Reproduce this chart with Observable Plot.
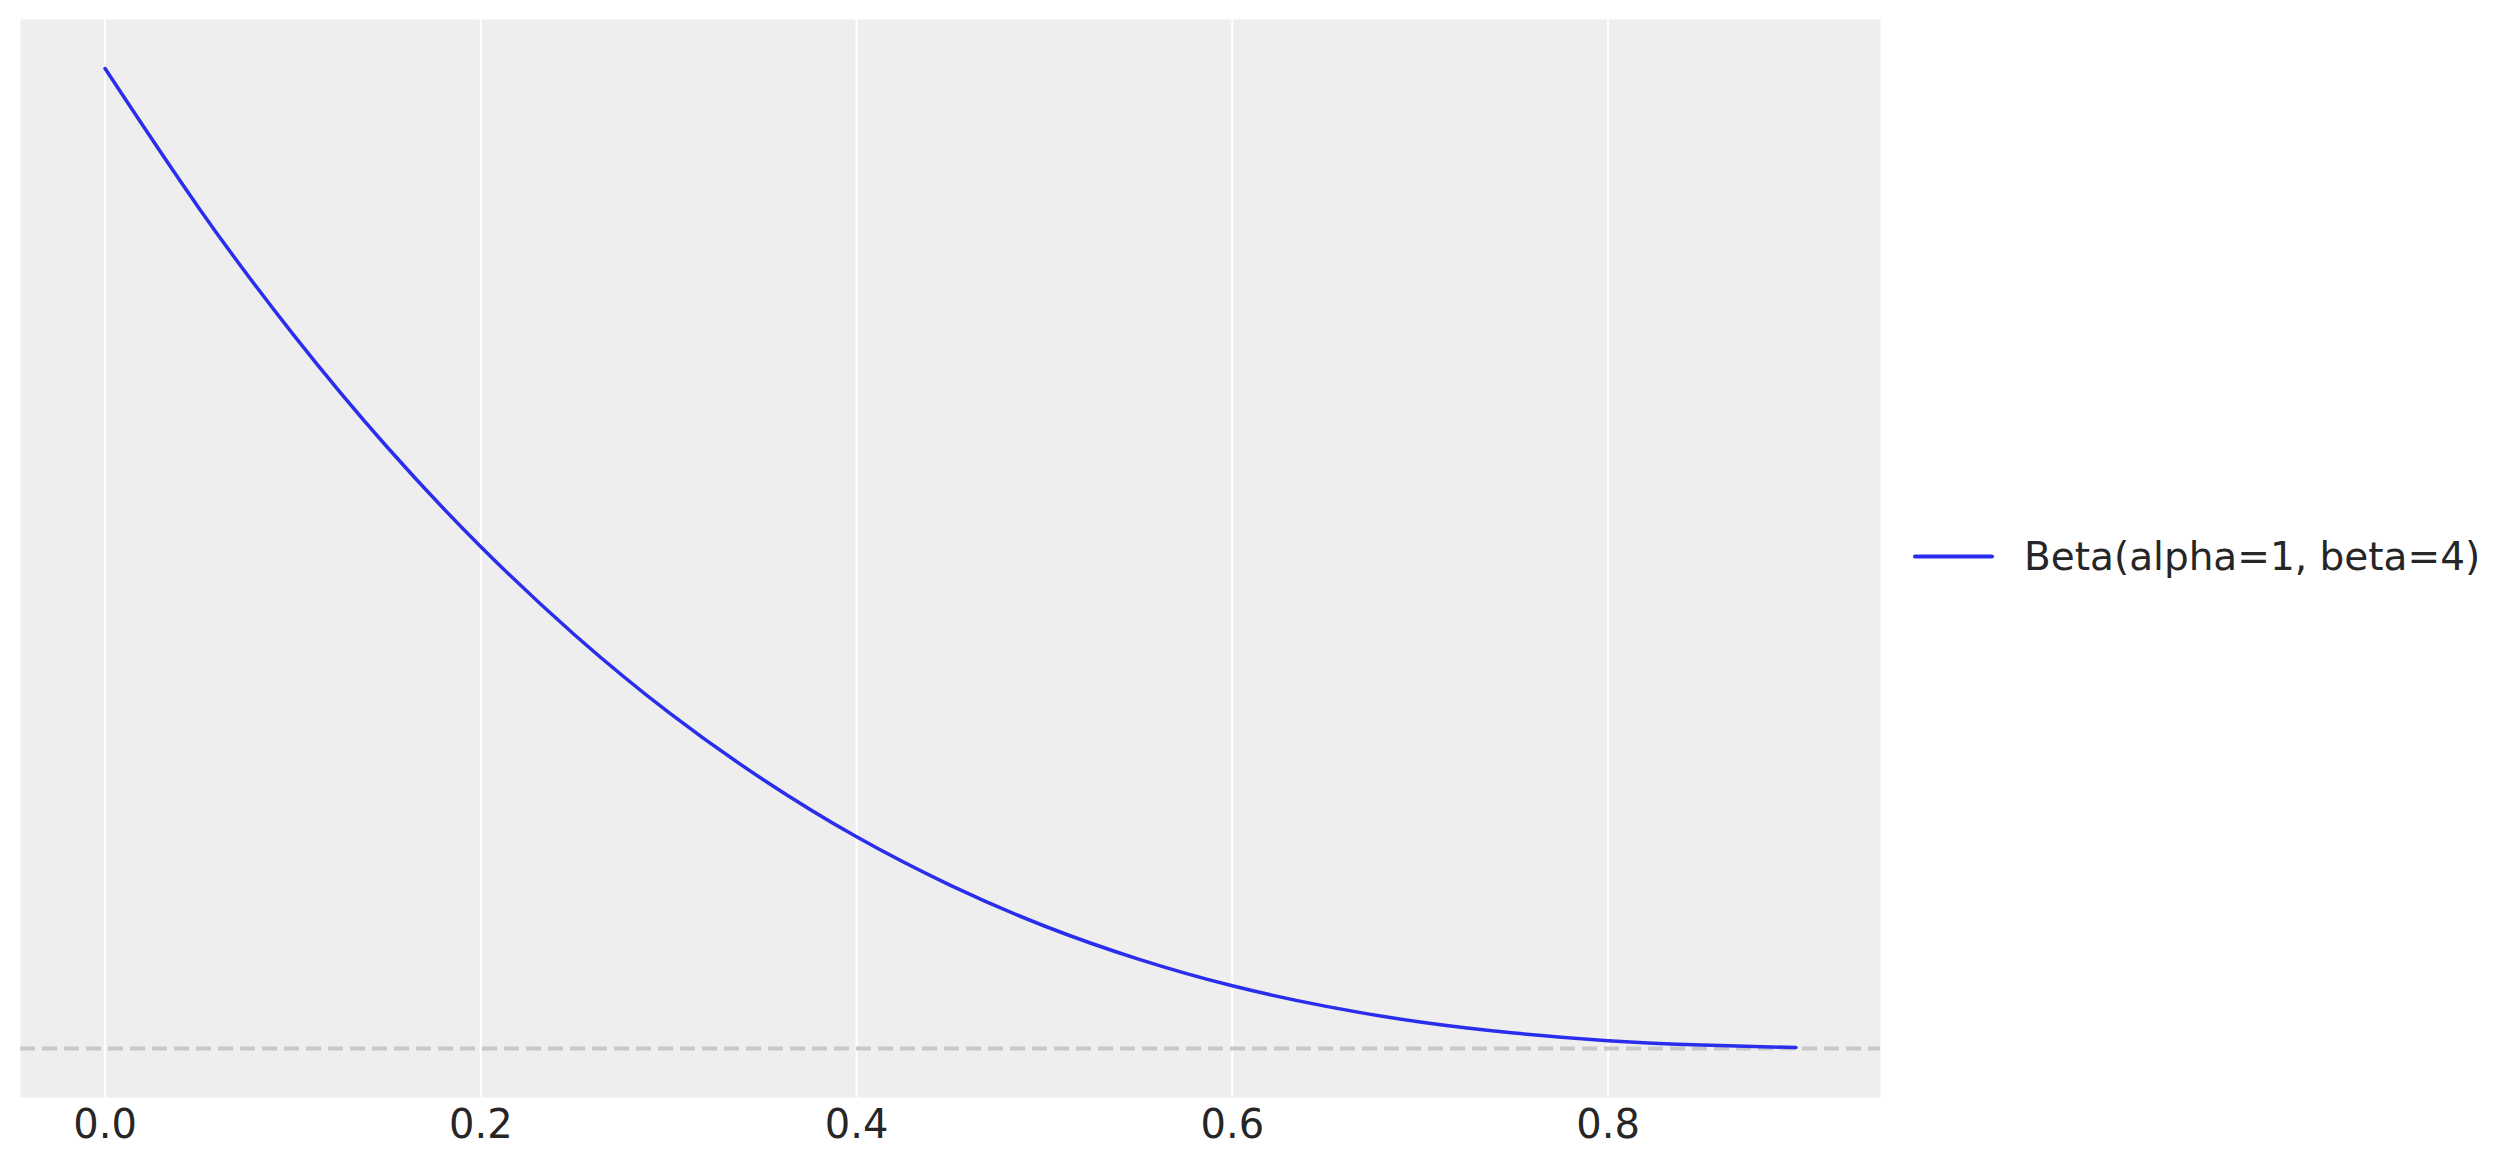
<!DOCTYPE html>
<html>
<head>
<meta charset="utf-8">
<script src="https://cdn.jsdelivr.net/npm/d3@7"></script>
<script src="https://cdn.jsdelivr.net/npm/@observablehq/plot@0.6"></script>
<style>
  html, body { margin: 0; padding: 0; background: #ffffff; }
  #wrap { position: relative; width: 2514px; height: 1165px; font-family: "DejaVu Sans", sans-serif; }
  #legend { position: absolute; left: 1913px; top: 556px; display: flex; align-items: center; transform: translateY(-50%); }
  #legend .swatch { width: 81px; height: 4px; border-radius: 2px; background: #2a2eec; }
  #legend .label { margin-left: 30px; font-size: 39px; color: #262626; line-height: 1; white-space: nowrap; }
</style>
</head>
<body>
<div id="wrap"><div id="legend"><div class="swatch"></div><div class="label"></div></div></div>
<script>
// Values
const xValues = [0.00, 0.05, 0.10, 0.15, 0.20, 0.25, 0.30, 0.35, 0.40, 0.45, 0.50, 0.55, 0.60, 0.65, 0.70, 0.75, 0.80, 0.85, 0.90];
const densityValues = [4.000, 3.430, 2.916, 2.456, 2.048, 1.688, 1.372, 1.099, 0.864, 0.666, 0.500, 0.365, 0.256, 0.172, 0.108, 0.063, 0.032, 0.014, 0.004];
const xTicks = [0.0, 0.2, 0.4, 0.6, 0.8];
const seriesLabel = "Beta(alpha=1, beta=4)";
const baselineValue = [0];

const rows = xValues.map((x, i) => ({x, y: densityValues[i]}));

const chart = Plot.plot({
  width: 2514,
  height: 1165,
  marginLeft: 20,
  marginRight: 634,
  marginTop: 19,
  marginBottom: 68,
  style: { fontFamily: "DejaVu Sans, sans-serif", color: "#262626", background: "transparent" },
  x: { domain: [-0.045, 0.945] },
  y: { domain: [-0.2, 4.2], axis: null },
  marks: [
    Plot.frame({ fill: "#eeeeee", stroke: "none" }),
    Plot.gridX(xTicks, { stroke: "#ffffff", strokeOpacity: 1, strokeWidth: 2 }),
    Plot.ruleY(baselineValue, { stroke: "#c8c8c8", strokeWidth: 4, strokeDasharray: "15,7" }),
    Plot.line(rows, { x: "x", y: "y", stroke: "#2a2eec", strokeWidth: 3.5, curve: "natural" }),
    Plot.axisX({ ticks: xTicks, tickSize: 0, tickPadding: 12, fontSize: 40, tickFormat: d3.format(".1f"), label: null })
  ]
});
document.getElementById("wrap").prepend(chart);
chart.style.position = "absolute";
chart.style.left = "0";
chart.style.top = "0";
document.querySelector("#legend .label").textContent = seriesLabel;
</script>
</body>
</html>
